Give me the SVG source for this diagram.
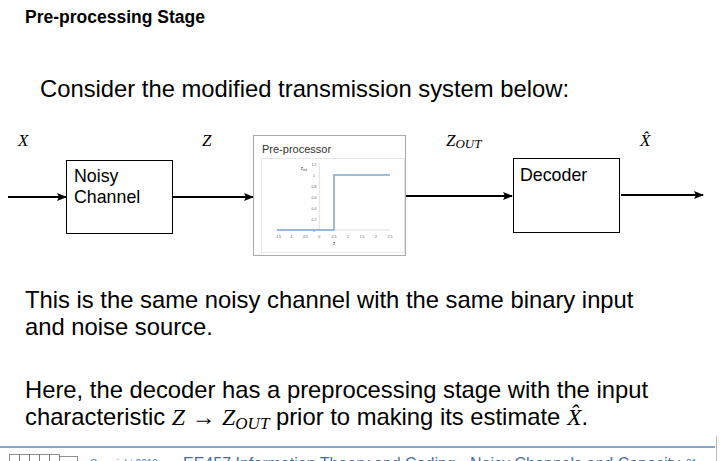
<svg xmlns="http://www.w3.org/2000/svg" width="724" height="461" viewBox="0 0 724 461">
<style>
.t{font-family:"Liberation Sans",Arial,sans-serif;fill:#000}
.m{font-family:"Liberation Serif","Times New Roman",serif;font-style:italic;fill:#000}
.box{fill:#fff;stroke:#000;stroke-width:1}
.c{stroke:#000;stroke-width:2;fill:none}
.tk{font-family:"Liberation Sans",Arial,sans-serif;font-size:3.5px;fill:#555;text-anchor:middle}
.ft{font-family:"Liberation Sans",Arial,sans-serif;fill:#4a6da0}
</style>
<defs>
<marker id="ah" viewBox="0 0 10 10" refX="9" refY="5" markerWidth="5" markerHeight="5" orient="auto" markerUnits="strokeWidth">
<path d="M0,1 L10,5 L0,9 L2,5 Z" fill="#000"/>
</marker>
</defs>
<rect width="724" height="461" fill="#fff"/>
<text class="t" x="25" y="23" font-size="17.5" font-weight="bold">Pre-processing Stage</text>
<text class="t" x="40" y="97" font-size="23.8">Consider the modified transmission system below:</text>

<g id="labels">
<text class="m" x="18" y="146" font-size="17">X</text>
<text class="m" x="202" y="146" font-size="17">Z</text>
<text class="m" x="446" y="146" font-size="17">Z<tspan font-size="13" dy="2">OUT</tspan></text>
<text class="m" x="640" y="146" font-size="17">X̂</text>
</g>

<g id="connectors">
<line class="c" x1="8" y1="197" x2="66" y2="197" marker-end="url(#ah)"/>
<line class="c" x1="172" y1="197" x2="253" y2="197" marker-end="url(#ah)"/>
<line class="c" x1="406" y1="196" x2="512" y2="196" marker-end="url(#ah)"/>
<line class="c" x1="621" y1="195" x2="703" y2="195" marker-end="url(#ah)"/>
</g>

<g id="noisy-channel">
<rect class="box" x="66.5" y="160.5" width="106" height="73"/>
<text class="t" x="74" y="182" font-size="17.8">Noisy</text>
<text class="t" x="74" y="203" font-size="17.8">Channel</text>
</g>

<g id="pre-processor">
<rect x="253.5" y="135.5" width="152" height="120" fill="#fff" stroke="#aaa" stroke-width="1"/>
<text class="t" x="262" y="153" font-size="11" style="fill:#333">Pre-processor</text>
<rect x="261.5" y="158.5" width="143" height="94" fill="#fff" stroke="#ddd" stroke-width="0.7"/>
<line x1="319.3" y1="163" x2="319.3" y2="230" stroke="#ccc" stroke-width="0.6"/>
<line x1="277" y1="230" x2="390" y2="230" stroke="#ccc" stroke-width="0.6"/>
<g class="tk">
<text x="314" y="165.5">1.2</text>
<text x="314" y="176.5">1</text>
<text x="314" y="187.5">0.8</text>
<text x="314" y="198.5">0.6</text>
<text x="314" y="209.5">0.4</text>
<text x="314" y="220.5">0.2</text>
<text x="314" y="231.5">0</text>
<text x="278" y="238">-1.5</text>
<text x="291" y="238">-1</text>
<text x="305" y="238">-0.5</text>
<text x="319.3" y="238">0</text>
<text x="334" y="238">0.5</text>
<text x="348" y="238">1</text>
<text x="362" y="238">1.5</text>
<text x="376" y="238">2</text>
<text x="390" y="238">2.5</text>
<text x="304" y="169.5" font-size="4.5" fill="#333">z<tspan font-size="3" dy="1">out</tspan></text>
<text x="334" y="245" font-size="4.5" fill="#333">z</text>
</g>
<polyline points="277,230 334,230 334,175 390,175" fill="none" stroke="#7fa6d8" stroke-width="1.5"/>
</g>

<g id="decoder">
<rect class="box" x="513.5" y="158.5" width="106" height="74"/>
<text class="t" x="520" y="181" font-size="17.8">Decoder</text>
</g>

<text class="t" x="25" y="308" font-size="23.8">This is the same noisy channel with the same binary input</text>
<text class="t" x="25" y="335" font-size="23.8">and noise source.</text>
<text class="t" x="25" y="398" font-size="23.8">Here, the decoder has a preprocessing stage with the input</text>
<text class="t" x="25" y="425" font-size="23.8">characteristic <tspan class="m">Z</tspan> → <tspan class="m">Z</tspan><tspan class="m" font-size="17" dy="4">OUT</tspan><tspan dy="-4"> prior to making its estimate </tspan><tspan class="m">X̂</tspan>.</text>

<line x1="0" y1="447" x2="715" y2="447" stroke="#5b86c5" stroke-width="1.5"/>
<line x1="716.5" y1="436" x2="716.5" y2="461" stroke="#bbb" stroke-width="1"/>
<g fill="none" stroke="#777" stroke-width="0.8">
<rect x="9.5" y="454.5" width="10" height="9"/>
<rect x="19.5" y="454.5" width="10" height="9"/>
<rect x="29.5" y="454.5" width="10" height="9"/>
<rect x="39.5" y="454.5" width="10" height="9"/>
<rect x="49.5" y="454.5" width="10" height="9"/>
<rect x="59.5" y="456.5" width="18" height="7"/>
</g>
<text class="ft" x="90" y="467" font-size="10" style="fill:#4a7ebb">Copyright 2019</text>
<text class="ft" x="183" y="469" font-size="16">EE457 Information Theory and Coding - Noisy Channels and Capacity</text>
<text class="ft" x="686" y="467" font-size="10" style="fill:#4a7ebb">21</text>
</svg>
